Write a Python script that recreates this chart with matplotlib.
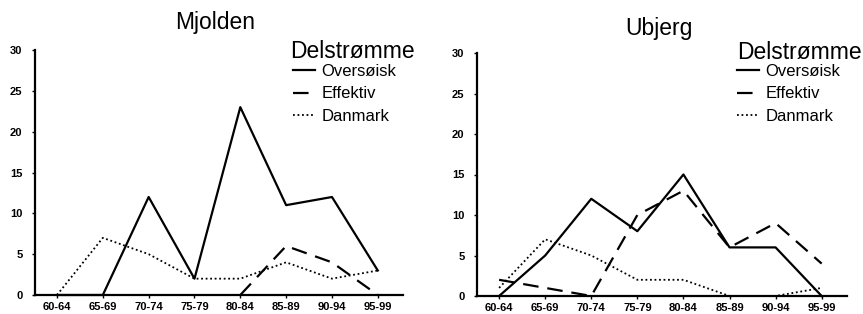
import matplotlib
matplotlib.use("Agg")
import matplotlib.pyplot as plt
import numpy as np

periods = ["60-64", "65-69", "70-74", "75-79", "80-84", "85-89", "90-94", "95-99"]

mjolden_oversoisk = [0, 0, 12, 2, 23, 11, 12, 3]
mjolden_effektiv = [np.nan, np.nan, np.nan, np.nan, 0, 6, 4, 0]
mjolden_danmark = [0, 7, 5, 2, 2, 4, 2, 3]

ubjerg_oversoisk = [0, 5, 12, 8, 15, 6, 6, 0]
ubjerg_effektiv = [2, 1, 0, 10, 13, 6, 9, 4]
ubjerg_danmark = [1, 7, 5, 2, 2, 0, 0, 1]

series_labels = ["Oversøisk", "Effektiv", "Danmark"]
legend_title = "Delstrømme"

plt.rcParams['font.family'] = ['Liberation Sans', 'DejaVu Sans']

fig = plt.figure(figsize=(8.63, 3.14), dpi=100)

W, H = 863, 314

def make_ax(x0, x1, ytop, ybot):
    return fig.add_axes([x0 / W, 1 - ybot / H, (x1 - x0) / W, (ybot - ytop) / H])

axL = make_ax(35, 403, 50, 295)
axR = make_ax(477, 847, 53, 296)

styles = [
    dict(color='black', lw=1.6, linestyle='-'),
    dict(color='black', lw=1.6, linestyle=(0, (7, 4))),
    dict(color='black', lw=1.3, linestyle=(0, (1, 1.5))),
]

def draw(ax, data, title, title_xy, leg_title_xy, leg_xy):
    x = np.arange(len(periods))
    handles = []
    for vals, st, lab in zip(data, styles, series_labels):
        h, = ax.plot(x, vals, label=lab, clip_on=False, **st)
        handles.append(h)
    ax.set_ylim(0, 30)
    ax.set_yticks([0, 5, 10, 15, 20, 25, 30])
    ax.set_xticks(x)
    ax.set_xticklabels(periods)
    for lab in ax.get_xticklabels() + ax.get_yticklabels():
        lab.set_fontsize(8)
        lab.set_fontweight('bold')
    ax.tick_params(axis='both', length=2, width=1, direction='out', pad=3)
    ax.tick_params(axis='y', pad=7)
    for s in ['top', 'right']:
        ax.spines[s].set_visible(False)
    for s in ['left', 'bottom']:
        ax.spines[s].set_linewidth(1.6)
    fig.text(title_xy[0] / W, 1 - title_xy[1] / H, title, fontsize=16.5,
             ha='center', va='center')
    fig.text(leg_title_xy[0] / W, 1 - leg_title_xy[1] / H, legend_title,
             fontsize=16.5, ha='left', va='baseline')
    ax.legend(handles=handles, loc='upper left',
              bbox_to_anchor=(leg_xy[0] / W, 1 - leg_xy[1] / H),
              bbox_transform=fig.transFigure, frameon=False,
              fontsize=12, handlelength=1.3,
              handletextpad=0.4, labelspacing=0.45, borderpad=0,
              borderaxespad=0)

draw(axL, [mjolden_oversoisk, mjolden_effektiv, mjolden_danmark], "Mjolden",
     (215, 23), (290, 58), (293, 64))
draw(axR, [ubjerg_oversoisk, ubjerg_effektiv, ubjerg_danmark], "Ubjerg",
     (659, 28), (737, 59), (737, 64))

for ax in (axL, axR):
    ax.set_xlim(-0.48, 7.55)

fig.savefig("out.png", dpi=100)
